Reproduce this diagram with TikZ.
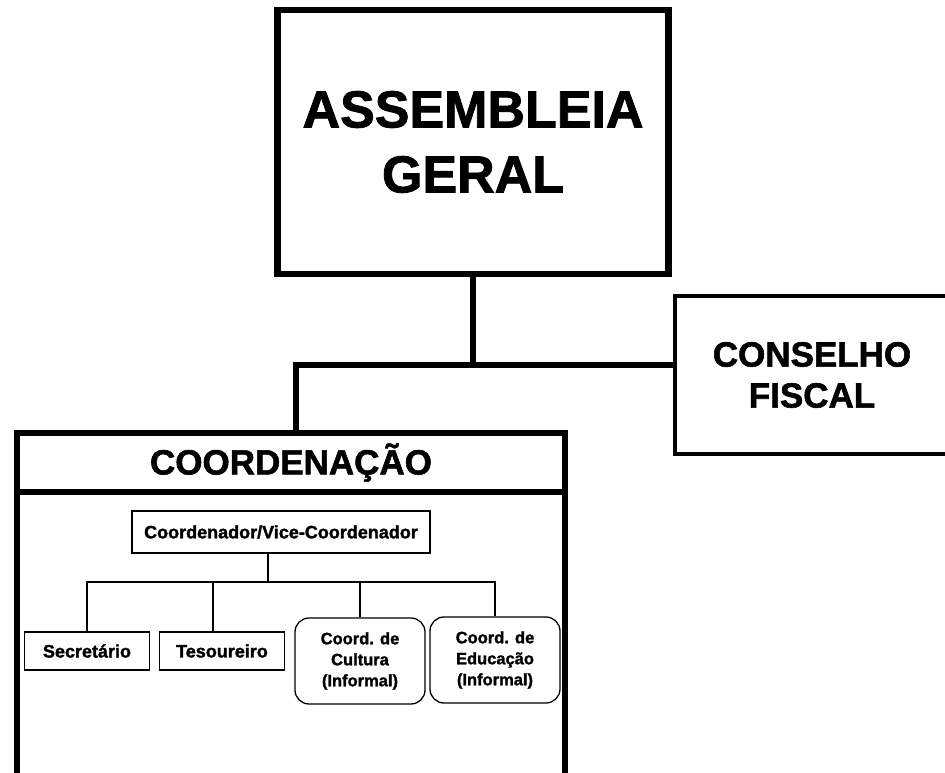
\documentclass[tikz,border=0pt]{standalone}
\usepackage{fontspec}
\setmainfont[BoldFeatures={FakeBold=1.6}]{Liberation Sans}
\begin{document}
\begin{tikzpicture}[x=1pt,y=-1pt]
        \tikzstyle{bigblock} = [rectangle, draw=black, text=black, align=center, line width=6.5, inner sep=0, font=\bfseries\fontsize{52}{65}\selectfont]
        \tikzstyle{sideblock} = [rectangle, draw=black, text=black, align=center, line width=4, inner sep=0, font=\bfseries\fontsize{35}{41}\selectfont]
        \tikzstyle{titleblock} = [rectangle, draw=black, text=black, align=center, line width=6, inner sep=0, outer sep=0, font=\bfseries\fontsize{35}{41}\selectfont]
        \tikzstyle{block} = [rectangle, draw=black, text=black, align=center, line width=1.3, inner sep=0, font=\bfseries\fontsize{18}{21}\selectfont]
        \tikzstyle{softblock} = [block, rounded corners=14, font=\bfseries\fontsize{16.5}{21}\selectfont]
        \tikzstyle{bigline} = [draw=black, line width=6]
        \tikzstyle{line} = [draw=black, line width=1.3]
        \useasboundingbox (0,0) rectangle (945,773);
        \clip (0,0) rectangle (945,773);
        \node[bigblock, minimum width=391, minimum height=264] (assembleia) at (473,142) {ASSEMBLEIA\\GERAL};
        \node[sideblock, minimum width=274, minimum height=158] (conselho) at (812,375) {CONSELHO\\FISCAL};
        \node[titleblock, minimum width=548, minimum height=59] (coordenacao) at (291,462.5) {COORDENAÇÃO};
        \node[titleblock, minimum width=548, minimum height=308, anchor=north] (painel) at (coordenacao.south) {};
        \node[block, minimum width=298, minimum height=42] (coordenador) at (281,532) {Coordenador/Vice-Coordenador};
        \node[block, minimum width=125, minimum height=38] (secretario) at (87,651) {Secretário};
        \node[block, minimum width=125, minimum height=38] (tesoureiro) at (222,651) {Tesoureiro};
        \node[softblock, minimum width=130, minimum height=86] (cultura) at (360,661) {Coord. de\\Cultura\\(Informal)};
        \node[softblock, minimum width=130, minimum height=86] (educacao) at (495,660) {Coord. de\\Educação\\(Informal)};
        \coordinate (juncao) at (473,365);
        \coordinate (canto) at (296,365);
        \coordinate (barra) at (268,582);
        \draw[bigline] (assembleia.south) -- (juncao);
        \draw[bigline] (conselho.west |- juncao) -- (canto) -- (canto |- coordenacao.north);
        \draw[line] (barra |- coordenador.south) -- (barra);
        \draw[line] (secretario.north) -- (secretario.north |- barra) -- (educacao.north |- barra) -- (educacao.north);
        \draw[line] ([xshift=-9]tesoureiro.north) -- ([xshift=-9]tesoureiro.north |- barra);
        \draw[line] (cultura.north) -- (cultura.north |- barra);
    \end{tikzpicture}
\end{document}
